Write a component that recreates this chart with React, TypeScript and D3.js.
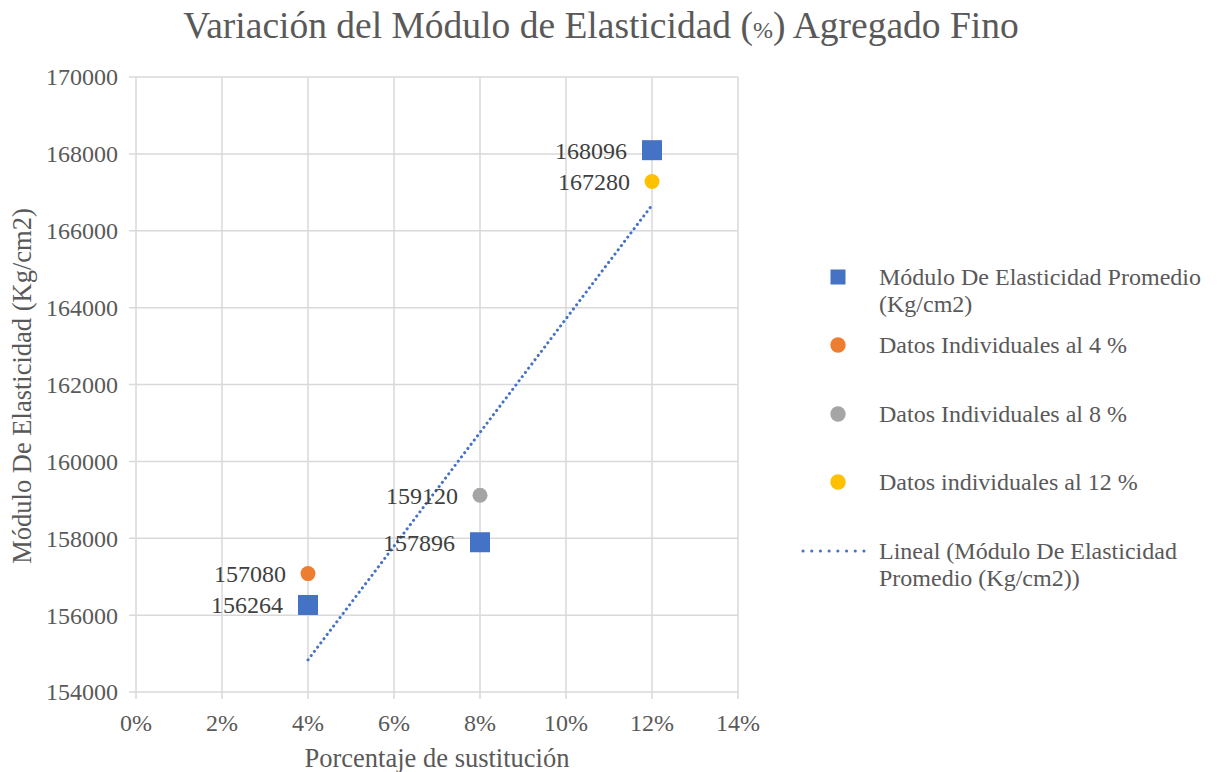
import React from 'react';
import * as d3 from 'd3';

// --- data ---
const xTicks = [0, 0.02, 0.04, 0.06, 0.08, 0.1, 0.12, 0.14];
const yTicks = [154000, 156000, 158000, 160000, 162000, 164000, 166000, 168000, 170000];

const promedioX = [0.04, 0.08, 0.12];
const promedioY = [156264, 157896, 168096];

const ind4 = [157080];
const ind8 = [159120];
const ind12 = [167280];

const legendItems = [
  { label: ['Módulo De Elasticidad Promedio', '(Kg/cm2)'], kind: 'square', color: '#4472C4' },
  { label: ['Datos Individuales al 4 %'], kind: 'circle', color: '#ED7D31' },
  { label: ['Datos Individuales al 8 %'], kind: 'circle', color: '#A5A5A5' },
  { label: ['Datos individuales al 12 %'], kind: 'circle', color: '#FFC000' },
  { label: ['Lineal (Módulo De Elasticidad', 'Promedio (Kg/cm2))'], kind: 'line', color: '#4472C4' },
];

const W = 1217;
const H = 772;
const TXT = '#595959';
const GRID = '#d9d9d9';
const serif = { fontFamily: 'Liberation Serif' };

export default function App() {
  const margin = { left: 136, right: 479, top: 77, bottom: 80 };
  const x = d3.scaleLinear().domain([0, 0.14]).range([margin.left, W - margin.right]);
  const y = d3.scaleLinear().domain([154000, 170000]).range([H - margin.bottom, margin.top]);
  const fmtPct = d3.format('.0%');

  // least squares trendline over the averages
  const mx = d3.mean(promedioX)!;
  const my = d3.mean(promedioY)!;
  const slope =
    d3.sum(promedioX, (v, i) => (v - mx) * (promedioY[i] - my)) /
    d3.sum(promedioX, (v) => (v - mx) ** 2);
  const trend = (v: number) => my + slope * (v - mx);
  const x0 = d3.min(promedioX)!;
  const x1 = d3.max(promedioX)!;
  const trendPath = d3.line<number>().x((v) => x(v)).y((v) => y(trend(v)))([x0, x1]);

  const individuals = [
    { xs: 0.04, ys: ind4, color: '#ED7D31' },
    { xs: 0.08, ys: ind8, color: '#A5A5A5' },
    { xs: 0.12, ys: ind12, color: '#FFC000' },
  ];

  const legendRowsY = [277, 345, 414, 482, 551];

  return (
    <svg width={W} height={H} style={{ position: 'absolute', left: 0, top: 0, background: '#fff' }}>
      <rect width={W} height={H} fill="#fff" />
      <text x={601} y={38} textAnchor="middle" fontSize={37.5} fill={TXT} style={serif}>
        Variación del Módulo de Elasticidad (
        <tspan fontSize={24}>%</tspan>
        ) Agregado Fino
      </text>

      {/* grid */}
      {yTicks.map((t) => (
        <g key={'y' + t}>
          <line x1={x(0) - 7} x2={x(0.14)} y1={y(t)} y2={y(t)} stroke={GRID} strokeWidth={1.5} />
          <text x={x(0) - 18} y={y(t)} dy="0.35em" textAnchor="end" fontSize={24} fill={TXT} style={serif}>{t}</text>
        </g>
      ))}
      {xTicks.map((t) => (
        <g key={'x' + t}>
          <line x1={x(t)} x2={x(t)} y1={y(170000)} y2={y(154000) + 7} stroke={GRID} strokeWidth={1.5} />
          <text x={x(t)} y={y(154000) + 31} dy="0.35em" textAnchor="middle" fontSize={24} fill={TXT} style={serif}>
            {fmtPct(t)}
          </text>
        </g>
      ))}

      <text x={437} y={758} dy="0.35em" textAnchor="middle" fontSize={26.5} fill={TXT} style={serif}>
        Porcentaje de sustitución
      </text>
      <text transform={`translate(22,${386}) rotate(-90)`} dy="0.35em" textAnchor="middle" fontSize={26.5} fill={TXT}
        style={serif}>
        Módulo De Elasticidad (Kg/cm2)
      </text>

      {/* trendline */}
      <path d={trendPath ?? ''} fill="none" stroke="#4472C4" strokeWidth={3} strokeDasharray="0.1 5.2"
        strokeLinecap="round" />

      {/* average squares */}
      {promedioX.map((v, i) => (
        <g key={'p' + i}>
          <rect x={x(v) - 10} y={y(promedioY[i]) - 10} width={20} height={20} fill="#4472C4" />
          <text x={x(v) - 25} y={y(promedioY[i])} dy="0.35em" textAnchor="end" fontSize={24} fill="#404040" style={serif}>
            {promedioY[i]}
          </text>
        </g>
      ))}

      {/* individual data */}
      {individuals.map((s) =>
        s.ys.map((v, j) => (
          <g key={s.color + j}>
            <circle cx={x(s.xs)} cy={y(v)} r={7.5} fill={s.color} />
            <text x={x(s.xs) - 22} y={y(v)} dy="0.35em" textAnchor="end" fontSize={24} fill="#404040" style={serif}>
              {v}
            </text>
          </g>
        ))
      )}

      {/* legend */}
      {legendItems.map((it, i) => {
        const cy = legendRowsY[i];
        return (
          <g key={'l' + i}>
            {it.kind === 'square' && <rect x={830.5} y={cy - 7.5} width={15} height={15} fill={it.color} />}
            {it.kind === 'circle' && <circle cx={838} cy={cy} r={7.7} fill={it.color} />}
            {it.kind === 'line' && (
              <line x1={803} x2={872} y1={cy} y2={cy} stroke={it.color} strokeWidth={3}
                strokeDasharray="0.1 8.6" strokeLinecap="round" />
            )}
            {it.label.map((ln, k) => (
              <text key={k} x={879} y={cy + k * 27} dy="0.35em" fontSize={24} fill={TXT} style={serif}>{ln}</text>
            ))}
          </g>
        );
      })}
    </svg>
  );
}
